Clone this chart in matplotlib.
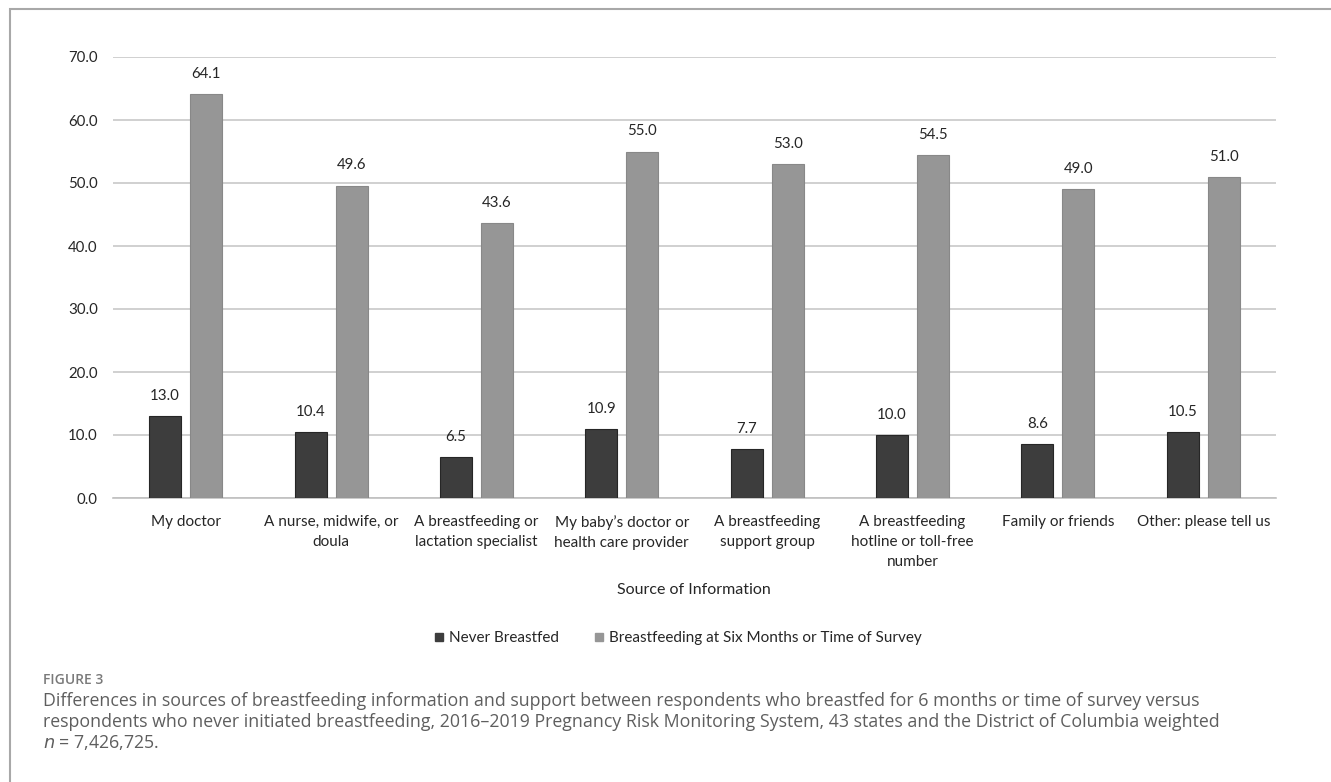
import matplotlib
matplotlib.use("Agg")
import matplotlib.pyplot as plt
import numpy as np
from matplotlib.lines import Line2D
from matplotlib.patches import Rectangle

# Sources of breastfeeding information (percent of respondents)
sources = [
    "My doctor",
    "A nurse, midwife, or\ndoula",
    "A breastfeeding or\nlactation specialist",
    "My baby\u2019s doctor or\nhealth care provider",
    "A breastfeeding\nsupport group",
    "A breastfeeding\nhotline or toll-free\nnumber",
    "Family or friends",
    "Other: please tell us",
]
never_bf = [13.0, 10.4, 6.5, 10.9, 7.7, 10.0, 8.6, 10.5]
six_months_bf = [64.1, 49.6, 43.6, 55.0, 53.0, 54.5, 49.0, 51.0]
y_ticks = [0, 10, 20, 30, 40, 50, 60, 70]

series_names = ["Never Breastfed", "Breastfeeding at Six Months or Time of Survey"]
dark = "#3d3d3d"
light = "#969696"
text_col = "#262626"
font = "Lato"
cap_font = "Open Sans"

W, H = 1331, 782
fig = plt.figure(figsize=(W / 100, H / 100), dpi=100)
ax = fig.add_axes([113 / W, 1 - 498 / H, 1163 / W, 441 / H])

x = np.arange(len(sources))
bw = 0.22
off = 0.141
b1 = ax.bar(x - off, never_bf, bw, color=dark, edgecolor="#262626", linewidth=0.8, zorder=3)
b2 = ax.bar(x + off, six_months_bf, bw, color=light, edgecolor="#888888", linewidth=0.8, zorder=3)

for bars, vals in [(b1, never_bf), (b2, six_months_bf)]:
    for b, v in zip(bars, vals):
        ax.annotate(f"{v:.1f}", (b.get_x() + b.get_width() / 2, v),
                    xytext=(0, 14.5), textcoords="offset points",
                    ha="center", va="center", fontsize=10.8,
                    family=font, color=text_col)

ax.set_xlim(-0.5, len(sources) - 0.5)
ax.set_ylim(0, 70)
ax.set_yticks(y_ticks)
ax.set_yticklabels([f"{t:.1f}" for t in y_ticks], family=font, fontsize=10.8, color=text_col)
ax.set_xticks(x)
ax.set_xticklabels(sources, family=font, fontsize=11, color=text_col, linespacing=1.55, va="top")
ax.tick_params(axis="y", length=0, pad=11)
ax.tick_params(axis="x", length=0, pad=12)
ax.grid(axis="y", color="#c8c8c8", linewidth=1.2, zorder=0)
for s in ["top", "right", "left"]:
    ax.spines[s].set_visible(False)
ax.spines["bottom"].set_color("#c0c0c0")
ax.spines["bottom"].set_linewidth(1.2)

fig.text(694 / W, 1 - 590 / H, "Source of Information", ha="center", va="center",
         family=font, fontsize=11.5, color=text_col)

handles = [Line2D([], [], marker="s", linestyle="none", markersize=5.5,
                  markerfacecolor=c, markeredgecolor=c) for c in (dark, light)]
fig.legend(handles, series_names, loc="center", bbox_to_anchor=(678 / W, 1 - 638 / H),
           ncol=2, frameon=False, handlelength=0.6, handletextpad=0.35, columnspacing=2.3,
           prop={"family": font, "size": 11}, labelcolor=text_col)

# outer frame around the figure panel
fig.patches.append(Rectangle((10 / W, -0.1), 1.2, 1.1 - 9 / H, transform=fig.transFigure,
                             fill=False, edgecolor="#a8a8a8", linewidth=1.5))

fig.text(43 / W, 1 - 680 / H, "FIGURE 3", ha="left", va="center",
         family=cap_font, fontsize=10, fontweight="semibold", color="#7a7a7a")
caption = [
    "Differences in sources of breastfeeding information and support between respondents who breastfed for 6 months or time of survey versus",
    "respondents who never initiated breastfeeding, 2016\u20132019 Pregnancy Risk Monitoring System, 43 states and the District of Columbia weighted",
]
for i, line in enumerate(caption):
    fig.text(43 / W, 1 - (701 + 21 * i) / H, line, ha="left", va="center",
             family=cap_font, fontsize=12.8, color="#5e5e5e")
fig.text(43 / W, 1 - 743 / H, "$n$ = 7,426,725.", ha="left", va="center",
         family=cap_font, fontsize=12.8, color="#5e5e5e")

fig.savefig("out.png", dpi=100)
